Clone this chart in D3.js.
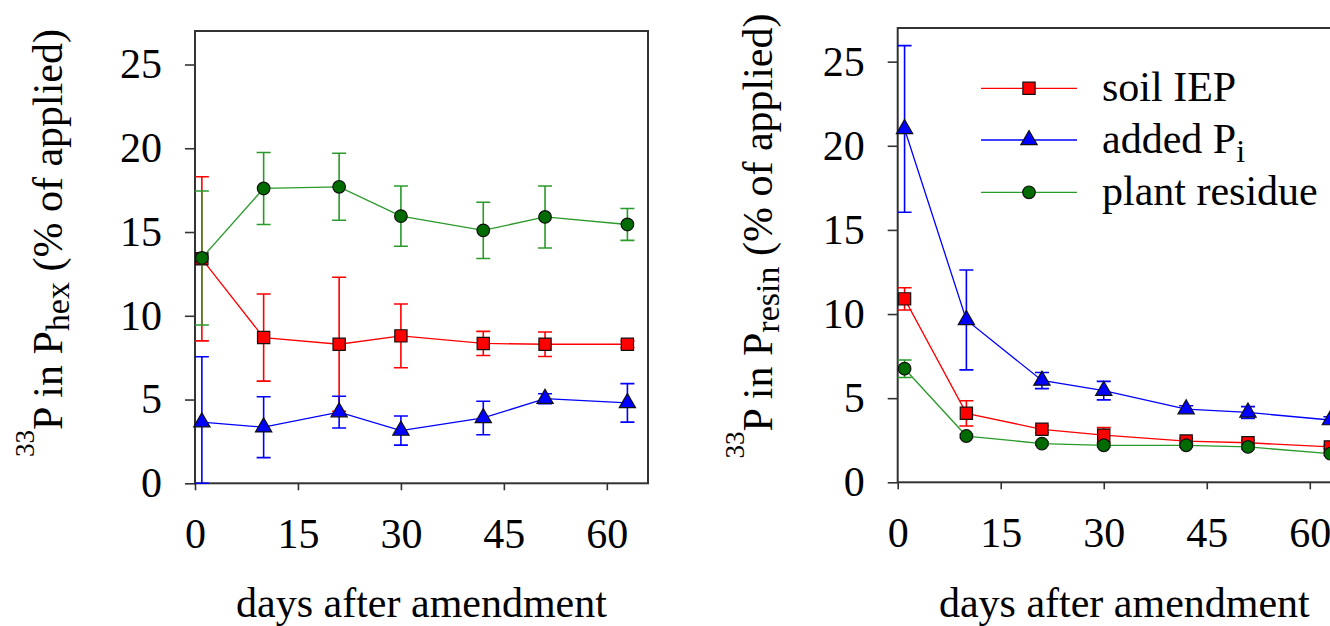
<!DOCTYPE html>
<html>
<head>
<meta charset="utf-8">
<script src="https://cdn.jsdelivr.net/npm/d3@7"></script>
<style>
    body { margin: 0; background: #fff; }
    svg text, svg tspan { font-family: "Liberation Serif", "Times New Roman", Tinos, "DejaVu Serif", serif; fill: #000; }
</style>
</head>
<body>
<svg width="1330" height="626"></svg>
<script>
// Sampling days (same for both panels)
var days = [1, 10, 21, 30, 42, 51, 63];
var seriesNames = ['soil IEP', 'added P', 'plant residue'];
var xTicks = [0, 15, 30, 45, 60];
var yTicks = [0, 5, 10, 15, 20, 25];

// Left panel: 33P in P hex
var hexIep = [13.4, 8.7, 8.3, 8.8, 8.35, 8.3, 8.3];
var hexIepSd = [4.9, 2.6, 4.0, 1.9, 0.72, 0.73, 0.2];
var hexPi = [3.65, 3.35, 4.25, 3.15, 3.9, 5.05, 4.8];
var hexPiSd = [3.9, 1.82, 0.95, 0.87, 1.0, 0.3, 1.15];
var hexResidue = [13.45, 17.6, 17.7, 15.95, 15.1, 15.9, 15.45];
var hexResidueSd = [4.0, 2.15, 2.0, 1.8, 1.68, 1.85, 0.95];

// Right panel: 33P in P resin
var resinIep = [10.9, 4.1, 3.15, 2.8, 2.45, 2.35, 2.1];
var resinIepSd = [0.66, 0.75, 0.2, 0.45, 0.15, 0.15, 0.1];
var resinPi = [21.0, 9.65, 6.05, 5.45, 4.35, 4.15, 3.7];
var resinPiSd = [4.95, 2.97, 0.48, 0.55, 0.2, 0.35, 0.2];
var resinResidue = [6.75, 2.75, 2.3, 2.2, 2.2, 2.1, 1.7];
var resinResidueSd = [0.52, 0.1, 0.1, 0.1, 0.1, 0.1, 0.1];

var styles = [
    {color: '#ff0000', fill: '#ff0000', shape: d3.symbolSquare, size: 150},
    {color: '#0000ff', fill: '#0000ff', shape: d3.symbolTriangle, size: 115},
    {color: '#2a9a2a', fill: '#006b00', shape: d3.symbolCircle, size: 125}
];

var svg = d3.select('svg');
var fontFamily = '"Liberation Serif", "Times New Roman", Tinos, "DejaVu Serif", serif';

drawPanel({
    left: 195, right: 648, top: 31, bottom: 483.3,
    labelX: 62, labelY: 243, sub: 'hex',
    series: [[hexIep, hexIepSd], [hexPi, hexPiSd], [hexResidue, hexResidueSd]]
});

drawPanel({
    left: 897.7, right: 1351, top: 28, bottom: 482.3,
    labelX: 772, labelY: 236, sub: 'resin',
    series: [[resinIep, resinIepSd], [resinPi, resinPiSd], [resinResidue, resinResidueSd]]
});

drawLegend();

/** Helper functions **/

function styleAxis(sel) {
    sel.attr('font-size', 42).attr('font-family', fontFamily);
    sel.select('.domain').remove();
    sel.selectAll('line').attr('stroke', '#333').attr('stroke-width', 1.6);
    sel.selectAll('text').attr('fill', '#000').style('font-family', fontFamily);
}

function drawPanel(p) {
    var x = d3.scaleLinear().domain([0, 66]).range([p.left, p.right]);
    var y = d3.scaleLinear().domain([0, 27]).range([p.bottom, p.top]);
    var g = svg.append('g');

    g.append('g')
        .attr('transform', 'translate(' + p.left + ',0)')
        .call(d3.axisLeft(y).tickValues(yTicks).tickSize(10).tickSizeOuter(0).tickPadding(23))
        .call(styleAxis);

    g.append('g')
        .attr('transform', 'translate(0,' + p.bottom + ')')
        .call(d3.axisBottom(x).tickValues(xTicks).tickSize(7).tickSizeOuter(0).tickPadding(28))
        .call(styleAxis);

    g.append('rect')
        .attr('x', p.left)
        .attr('y', p.top)
        .attr('width', p.right - p.left)
        .attr('height', p.bottom - p.top)
        .attr('fill', 'none')
        .attr('stroke', '#333')
        .attr('stroke-width', 2);

    var line = d3.line()
        .x(function(d) { return x(d.day); })
        .y(function(d) { return y(d.v); });

    p.series.forEach(function(s, k) {
        var st = styles[k];
        var pts = days.map(function(d, i) { return {day: d, v: s[0][i], sd: s[1][i]}; });

        // error bars, clipped at zero
        g.append('g').selectAll('path')
            .data(pts)
            .enter().append('path')
            .attr('d', function(d) {
                var cx = x(d.day);
                var hi = y(d.v + d.sd);
                var lo = y(Math.max(0, d.v - d.sd));
                return 'M' + (cx - 7) + ',' + hi + 'H' + (cx + 7) +
                    'M' + cx + ',' + hi + 'V' + lo +
                    'M' + (cx - 7) + ',' + lo + 'H' + (cx + 7);
            })
            .attr('fill', 'none')
            .attr('stroke', st.color)
            .attr('stroke-width', 1.6);

        g.append('path')
            .datum(pts)
            .attr('d', line)
            .attr('fill', 'none')
            .attr('stroke', st.color)
            .attr('stroke-width', 1.3);

        g.append('g').selectAll('path')
            .data(pts)
            .enter().append('path')
            .attr('transform', function(d) { return 'translate(' + x(d.day) + ',' + y(d.v) + ')'; })
            .attr('d', d3.symbol().type(st.shape).size(st.size))
            .attr('fill', st.fill)
            .attr('stroke', '#111')
            .attr('stroke-width', 1.2);
    });

    // y label: 33P in P(sub) (% of applied)
    var label = g.append('text')
        .attr('transform', 'translate(' + p.labelX + ',' + p.labelY + ') rotate(-90)')
        .attr('text-anchor', 'middle')
        .style('font-family', fontFamily)
        .attr('font-size', 42);
    label.append('tspan').attr('font-size', 27).attr('dy', -28).text('33');
    label.append('tspan').attr('dy', 28).text('P in P');
    label.append('tspan').attr('font-size', 34).attr('dy', 7).text(p.sub);
    label.append('tspan').attr('dy', -7).text(' (% of applied)');

    g.append('text')
        .attr('x', (p.left + p.right) / 2)
        .attr('y', 617)
        .attr('text-anchor', 'middle')
        .style('font-family', fontFamily)
        .attr('font-size', 42)
        .text('days after amendment');
}

function drawLegend() {
    var rows = [88.3, 140, 192.3];
    var lg = svg.append('g');
    rows.forEach(function(ry, k) {
        var st = styles[k];
        lg.append('line')
            .attr('x1', 981).attr('x2', 1077)
            .attr('y1', ry).attr('y2', ry)
            .attr('stroke', st.color)
            .attr('stroke-width', 1.3);
        lg.append('path')
            .attr('transform', 'translate(1029,' + ry + ')')
            .attr('d', d3.symbol().type(st.shape).size(st.size))
            .attr('fill', st.fill)
            .attr('stroke', '#111')
            .attr('stroke-width', 1.2);
        var t = lg.append('text')
            .attr('x', 1102)
            .attr('y', ry)
            .attr('dy', '0.3em')
            .style('font-family', fontFamily)
            .attr('font-size', 42)
            .text(seriesNames[k]);
        if (k == 1) {
            t.append('tspan').attr('font-size', 32).attr('dy', 9).text('i');
        }
    });
}
</script>
</body>
</html>
